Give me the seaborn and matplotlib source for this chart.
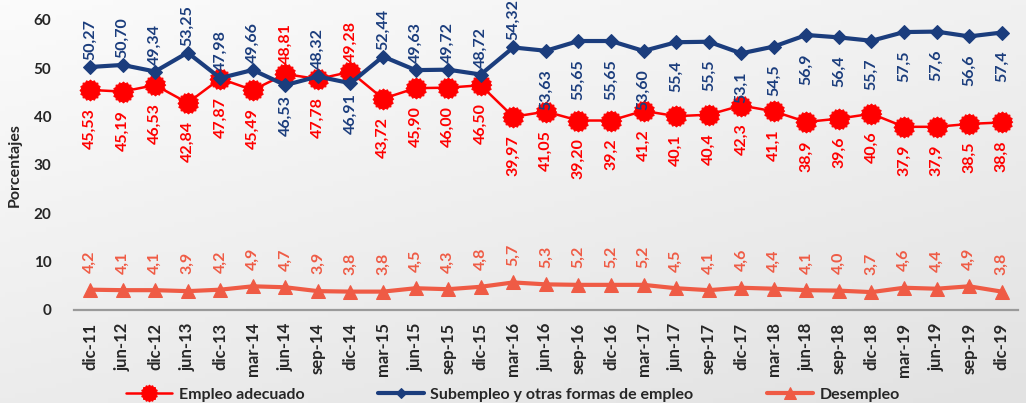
import matplotlib
matplotlib.use("Agg")
import matplotlib.pyplot as plt
import numpy as np
import pandas as pd
import seaborn as sns

PERIODS = ["dic-11", "jun-12", "dic-12", "jun-13", "dic-13", "mar-14", "jun-14", "sep-14",
           "dic-14", "mar-15", "jun-15", "sep-15", "dic-15", "mar-16", "jun-16", "sep-16",
           "dic-16", "mar-17", "jun-17", "sep-17", "dic-17", "mar-18", "jun-18", "sep-18",
           "dic-18", "mar-19", "jun-19", "sep-19", "dic-19"]

EMPLEO = [45.53, 45.19, 46.53, 42.84, 47.87, 45.49, 48.81, 47.78, 49.28, 43.72, 45.90, 46.00,
          46.50, 39.97, 41.05, 39.20, 39.2, 41.2, 40.1, 40.4, 42.3, 41.1, 38.9, 39.6, 40.6,
          37.9, 37.9, 38.5, 38.8]
EMPLEO_TXT = ["45,53", "45,19", "46,53", "42,84", "47,87", "45,49", "48,81", "47,78", "49,28",
              "43,72", "45,90", "46,00", "46,50", "39,97", "41,05", "39,20", "39,2", "41,2",
              "40,1", "40,4", "42,3", "41,1", "38,9", "39,6", "40,6", "37,9", "37,9", "38,5", "38,8"]

SUBEMPLEO = [50.27, 50.70, 49.34, 53.25, 47.98, 49.66, 46.53, 48.32, 46.91, 52.44, 49.63, 49.72,
             48.72, 54.32, 53.63, 55.65, 55.65, 53.60, 55.4, 55.5, 53.1, 54.5, 56.9, 56.4, 55.7,
             57.5, 57.6, 56.6, 57.4]
SUBEMPLEO_TXT = ["50,27", "50,70", "49,34", "53,25", "47,98", "49,66", "46,53", "48,32", "46,91",
                 "52,44", "49,63", "49,72", "48,72", "54,32", "53,63", "55,65", "55,65", "53,60",
                 "55,4", "55,5", "53,1", "54,5", "56,9", "56,4", "55,7", "57,5", "57,6", "56,6", "57,4"]

DESEMPLEO = [4.2, 4.1, 4.1, 3.9, 4.2, 4.9, 4.7, 3.9, 3.8, 3.8, 4.5, 4.3, 4.8, 5.7, 5.3, 5.2,
             5.2, 5.2, 4.5, 4.1, 4.6, 4.4, 4.1, 4.0, 3.7, 4.6, 4.4, 4.9, 3.8]
DESEMPLEO_TXT = ["4,2", "4,1", "4,1", "3,9", "4,2", "4,9", "4,7", "3,9", "3,8", "3,8", "4,5",
                 "4,3", "4,8", "5,7", "5,3", "5,2", "5,2", "5,2", "4,5", "4,1", "4,6", "4,4",
                 "4,1", "4,0", "3,7", "4,6", "4,4", "4,9", "3,8"]

SERIES_NAMES = ["Empleo adecuado", "Subempleo y otras formas de empleo", "Desempleo"]

RED = "#ff0000"
NAVY = "#1b3d7d"
CORAL = "#ef5b45"

sns.set_theme(style="white")
plt.rcParams["font.family"] = ["Lato", "DejaVu Sans"]

fig = plt.figure(figsize=(10.26, 4.03), dpi=100)

# light gray gradient background
bg = fig.add_axes([0, 0, 1, 1], zorder=-10)
gx, gy = np.meshgrid(np.linspace(0, 1, 200), np.linspace(0, 1, 80))
grad = 0.4 * gx + 0.6 * gy
bg.imshow(grad, cmap=matplotlib.colors.LinearSegmentedColormap.from_list("g", ["#fbfbfb", "#e2e2e2"]),
          aspect="auto", extent=[0, 1, 0, 1], origin="upper")
bg.axis("off")

# axes reach a bit above 60 so the top labels are not clipped
ax = fig.add_axes([0.0718, 0.2308, 0.9204, 0.7196 * 66 / 60])
ax.patch.set_alpha(0)

pos = np.arange(len(PERIODS))
df = pd.DataFrame({"pos": pos, "emp": EMPLEO, "sub": SUBEMPLEO, "des": DESEMPLEO})

# jagged round marker (like the Excel "burst" dot)
ang = np.linspace(0, 2 * np.pi, 33)[:-1]
rad = np.where(np.arange(32) % 2 == 0, 1.0, 0.86)
burst = list(zip(rad * np.cos(ang), rad * np.sin(ang)))

sns.lineplot(data=df, x="pos", y="emp", ax=ax, color=RED, lw=1.8, marker=burst, markersize=15,
             markeredgecolor=RED, label=SERIES_NAMES[0], zorder=3)
sns.lineplot(data=df, x="pos", y="sub", ax=ax, color=NAVY, lw=3, marker="D", markersize=7,
             markeredgecolor=NAVY, label=SERIES_NAMES[1], zorder=4)
sns.lineplot(data=df, x="pos", y="des", ax=ax, color=CORAL, lw=3, marker="^", markersize=10,
             markeredgecolor=CORAL, label=SERIES_NAMES[2], zorder=3)


def label(x, y, txt, dy, color):
    ax.annotate(txt, (float(x), float(y)), xytext=(0, dy), textcoords="offset points",
                rotation=90, fontsize=11.5, fontweight="bold", color=color,
                ha="center", va="bottom" if dy > 0 else "top")


for i in pos:
    # adequate employment: below, except where it sits above underemployment
    if i in (6, 8):
        label(i, EMPLEO[i], EMPLEO_TXT[i], 7, RED)
        label(i, SUBEMPLEO[i], SUBEMPLEO_TXT[i], -7, NAVY)
    else:
        label(i, EMPLEO[i], EMPLEO_TXT[i], -13, RED)
        if i <= 13:
            label(i, SUBEMPLEO[i], SUBEMPLEO_TXT[i], 5, NAVY)
        else:
            label(i, SUBEMPLEO[i], SUBEMPLEO_TXT[i], -13, NAVY)
    label(i, DESEMPLEO[i], DESEMPLEO_TXT[i], 12, CORAL)

ax.set_xlim(-0.5, len(PERIODS) - 0.5)
ax.set_ylim(0, 66)
ax.set_yticks(range(0, 61, 10))
ax.set_xticks(pos)
ax.set_xticklabels(PERIODS, rotation=90, fontweight="bold", fontsize=12)
ax.tick_params(axis="y", labelsize=11, length=0, pad=16)
ax.tick_params(axis="x", length=0, pad=9)
for t in ax.get_yticklabels():
    t.set_fontweight("bold")
ax.set_xlabel("")
ax.set_ylabel("Porcentajes", fontweight="bold", fontsize=11.5)
ax.yaxis.set_label_coords(-0.055, 30 / 66)
ax.grid(False)
for s in ["left", "right", "top"]:
    ax.spines[s].set_visible(False)
ax.spines["bottom"].set_color("#9a9a9a")
ax.spines["bottom"].set_linewidth(1.6)

ax.get_legend().remove()
handles, labels = ax.get_legend_handles_labels()
fig.legend(handles, labels, loc="center", bbox_to_anchor=(0.5, 0.02), ncol=3, frameon=False,
           prop={"weight": "bold", "size": 11.5}, columnspacing=4.6, handlelength=2.9,
           handletextpad=0.4, markerscale=0.8)

fig.savefig("out.png", dpi=100)
